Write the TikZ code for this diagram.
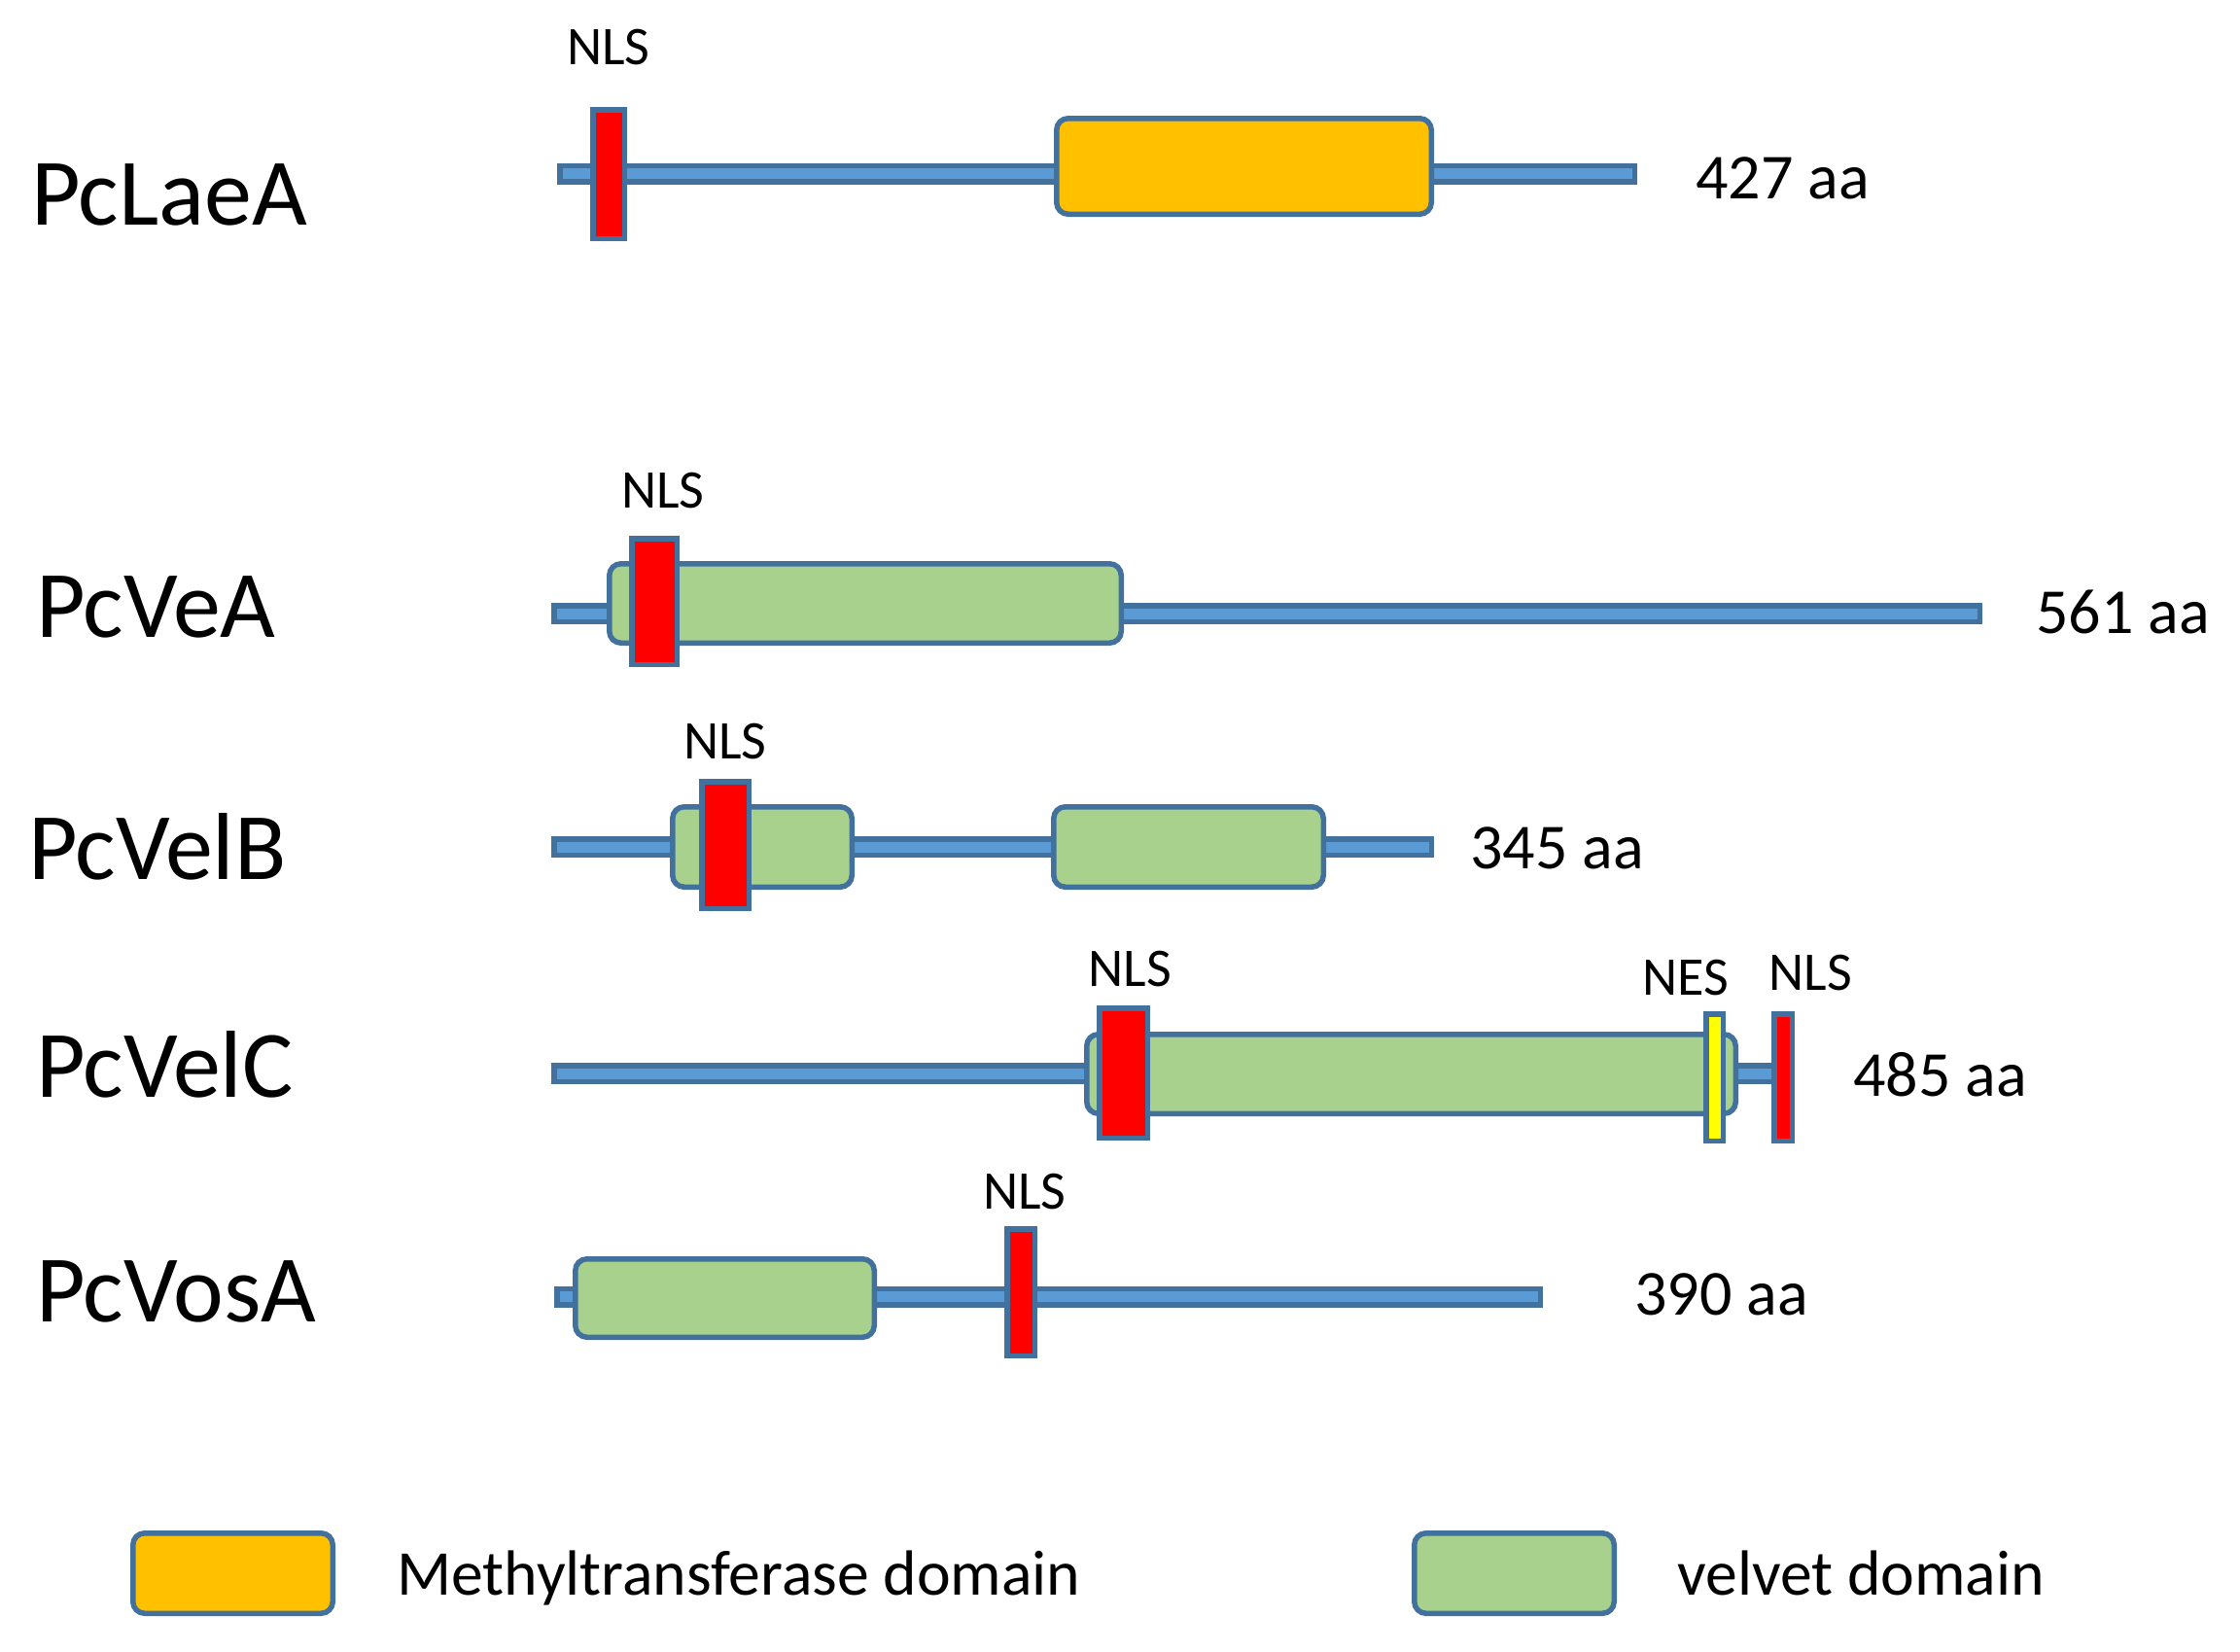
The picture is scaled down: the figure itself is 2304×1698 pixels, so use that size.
\documentclass[tikz,border=0pt]{standalone}
\usepackage{fontspec}
\setmainfont{Carlito}
\definecolor{bord}{HTML}{41719C}
\definecolor{linefill}{HTML}{5B9BD5}
\definecolor{mtfill}{HTML}{FFC000}
\definecolor{velfill}{HTML}{A9D18E}
\definecolor{nlsfill}{HTML}{FF0000}
\definecolor{nesfill}{HTML}{FFFF00}
\begin{document}
\begin{tikzpicture}[x=1pt,y=-1pt,
  base/.style={draw=bord, line width=5.5pt, inner sep=0pt, outer sep=0pt},
  chain/.style={base, fill=linefill, minimum height=16.5pt},
  dom/.style={base, rounded corners=12pt},
  mt/.style={dom, fill=mtfill},
  vel/.style={dom, fill=velfill},
  nls/.style={base, fill=nlsfill},
  nes/.style={base, fill=nesfill},
  protname/.style={anchor=base west, inner sep=0pt, font=\fontsize{98}{114}\selectfont},
  aalab/.style={anchor=base west, inner sep=0pt, font=\fontsize{66}{78}\selectfont},
  siglab/.style={anchor=base, inner sep=0pt, font=\fontsize{56}{66}\selectfont},
  leglab/.style={anchor=base west, inner sep=0pt, font=\fontsize{65.7}{78}\selectfont}]
\useasboundingbox (0,0) rectangle (2304,1698);
\fill[white] (0,0) rectangle (2304,1698);

% PcLaeA
\node[protname] (nLaeA) at (32,231) {PcLaeA};
\node[chain, minimum width=1105.5pt] (lLaeA) at (1128.5,178.5) {};
\node[mt, minimum width=385.5pt, minimum height=98.5pt] (mLaeA) at (1279.5,171) {};
\node[nls, minimum width=32.5pt, minimum height=132.5pt] (sLaeA) at (626,179) {};
\node[siglab] (tsLaeA) at (626,66) {NLS};
\node[aalab] (aLaeA) at (1744,204) {427 aa};

% PcVeA
\node[protname] (nVeA) at (37,655) {PcVeA};
\node[chain, minimum width=1466.5pt] (lVeA) at (1303,631) {};
\node[vel, minimum width=526.5pt, minimum height=81.5pt] (vVeA) at (890,620.5) {};
\node[nls, minimum width=46.5pt, minimum height=129.5pt] (sVeA) at (673,618.5) {};
\node[siglab] (tsVeA) at (682,522) {NLS};
\node[aalab] (aVeA) at (2094,651) {561 aa};

% PcVelB
\node[protname] (nVelB) at (29,904) {PcVelB};
\node[chain, minimum width=902.5pt] (lVelB) at (1021,871) {};
\node[vel, minimum width=184.5pt, minimum height=82.5pt] (vVelBa) at (784,871) {};
\node[vel, minimum width=277.5pt, minimum height=82.5pt] (vVelBb) at (1222.5,871) {};
\node[nls, minimum width=48.5pt, minimum height=130.5pt] (sVelB) at (746,869) {};
\node[siglab] (tsVelB) at (746,780) {NLS};
\node[aalab] (aVelB) at (1512,893) {345 aa};

% PcVelC
\node[protname] (nVelC) at (37,1128) {PcVelC};
\node[chain, minimum width=1255.5pt] (lVelC) at (1197.5,1104) {};
\node[vel, minimum width=667.5pt, minimum height=81.5pt] (vVelC) at (1451.5,1104.5) {};
\node[nls, minimum width=49.5pt, minimum height=133.5pt] (sVelCa) at (1155.5,1103.5) {};
\node[nes, minimum width=17.5pt, minimum height=130.5pt] (eVelC) at (1763.5,1108) {};
\node[nls, minimum width=18.5pt, minimum height=130.5pt] (sVelCb) at (1834,1108) {};
\node[siglab] (tsVelCa) at (1162,1014) {NLS};
\node[siglab] (teVelC) at (1734,1023) {NES};
\node[siglab] (tsVelCb) at (1862,1018) {NLS};
\node[aalab] (aVelC) at (1906,1127) {485 aa};

% PcVosA
\node[protname] (nVosA) at (37,1359) {PcVosA};
\node[chain, minimum width=1011.5pt] (lVosA) at (1078.5,1333.5) {};
\node[vel, minimum width=307.5pt, minimum height=80.5pt] (vVosA) at (745.5,1335) {};
\node[nls, minimum width=28.5pt, minimum height=130.5pt] (sVosA) at (1050,1329) {};
\node[siglab] (tsVosA) at (1054,1243) {NLS};
\node[aalab] (aVosA) at (1681,1352) {390 aa};

% Legend
\node[mt, minimum width=205.5pt, minimum height=82.5pt] (legmt) at (239.5,1618) {};
\node[leglab] (legmttext) at (408,1640) {Methyltransferase domain};
\node[vel, minimum width=205.5pt, minimum height=82.5pt] (legvel) at (1557.5,1618) {};
\node[leglab] (legveltext) at (1725,1640) {velvet domain};
\end{tikzpicture}
\end{document}
